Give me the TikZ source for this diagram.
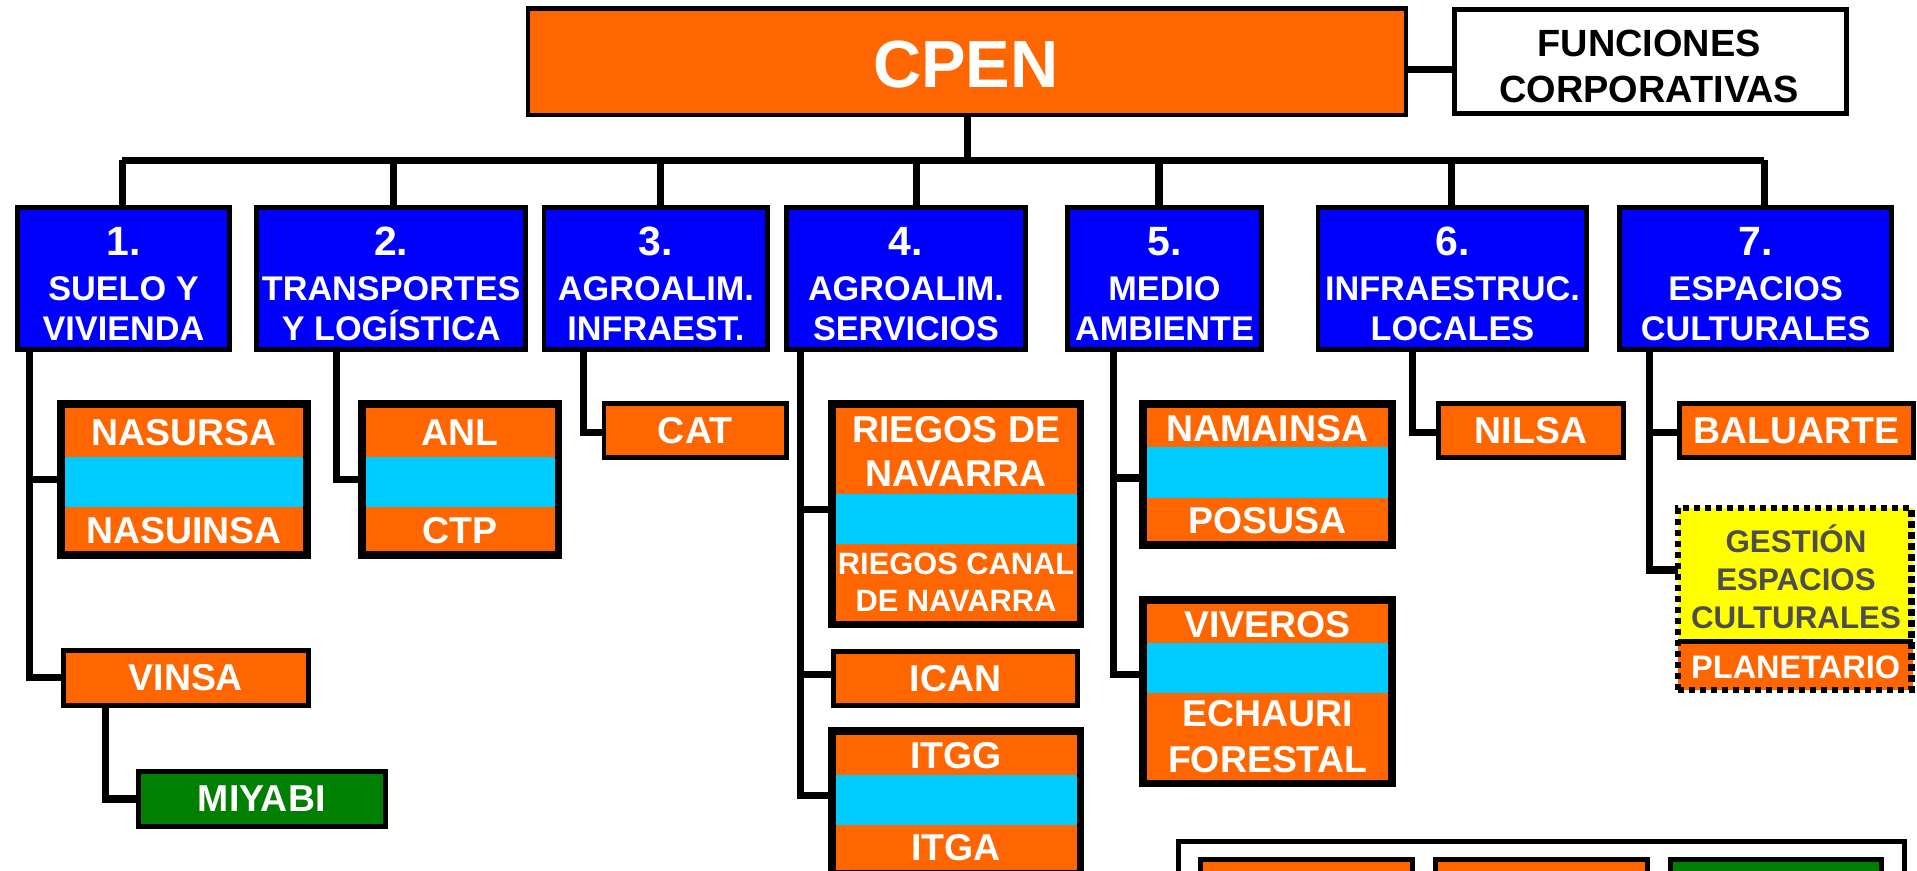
\documentclass[tikz,border=0pt]{standalone}
\usepackage{fontspec}
\setmainfont{Liberation Sans}
\usetikzlibrary{calc}
\definecolor{orangeC}{HTML}{FF6600}
\definecolor{blueC}{HTML}{0000FF}
\definecolor{cyanC}{HTML}{00CCFF}
\definecolor{greenC}{HTML}{008000}
\definecolor{yellowC}{HTML}{FFFF00}
\definecolor{grayT}{HTML}{4D4D4D}
\newcommand{\myfs}[2]{\fontsize{#1}{#2}\selectfont\bfseries}
\newcommand{\mybox}[7]{%
 \pgfmathsetmacro{\myboxcx}{(#3+#5)/2}%
 \pgfmathsetmacro{\myboxcy}{(#4+#6)/2}%
 \pgfmathsetmacro{\myboxw}{(#5-#3)*0.5}%
 \pgfmathsetmacro{\myboxh}{(#6-#4)*0.5}%
 \node[#2, minimum width=\myboxw pt, minimum height=\myboxh pt] (#1) at (\myboxcx,\myboxcy) {#7};}
\newcommand{\bluetxt}[3]{\rule{0pt}{16pt}{\fontsize{16.75}{16.5}\selectfont #1}\\[1.65pt]#2\\#3}
\tikzset{
 boxbase/.style={rectangle, inner sep=0pt, outer sep=0pt, align=center},
 bluebox/.style={boxbase, draw=black, line width=2pt, fill=blueC, text=white, font=\myfs{14}{16.5}},
 obox/.style={boxbase, draw=black, line width=2pt, fill=orangeC, text=white, font=\myfs{15.3}{18}},
 gbox/.style={obox, fill=greenC},
 cframe/.style={boxbase, draw=black, line width=3.2pt},
 orow/.style={boxbase, fill=orangeC, text=white, font=\myfs{15.3}{18}},
 crow/.style={boxbase, fill=cyanC},
 conn/.style={draw=black, line width=2.9pt, line join=miter},
}
\begin{document}
\begin{tikzpicture}[x=0.5pt,y=-0.5pt]
\useasboundingbox (0,0) rectangle (1568,712);
\clip (0,0) rectangle (1568,712);
\fill[white] (0,0) rectangle (1568,712);

% ---------- top
\mybox{cpen}{boxbase, draw=black, line width=1.9pt, fill=orangeC}{432}{7}{1150}{94}{}
\node[text=white, font=\myfs{27.3}{30}] (cpentxt) at (790,53) {CPEN};
\mybox{fun}{boxbase, draw=black, line width=2.1pt, fill=white}{1189.5}{7.5}{1510}{93}{}
\node[align=center, font=\myfs{15.5}{19}] (funtxt) at (1349,54.5) {FUNCIONES\\CORPORATIVAS};

% ---------- blue boxes
\mybox{b1}{bluebox}{14}{170}{188}{286}{\bluetxt{1.}{SUELO Y}{VIVIENDA}}
\mybox{b2}{bluebox}{210}{170}{430}{286}{\bluetxt{2.}{TRANSPORTES}{Y LOGÍSTICA}}
\mybox{b3}{bluebox}{445}{170}{628}{286}{\bluetxt{3.}{AGROALIM.}{INFRAEST.}}
\mybox{b4}{bluebox}{643}{170}{839}{286}{\bluetxt{4.}{AGROALIM.}{SERVICIOS}}
\mybox{b5}{bluebox}{873}{170}{1032}{286}{\bluetxt{5.}{MEDIO}{AMBIENTE}}
\mybox{b6}{bluebox}{1078}{170}{1298}{286}{\bluetxt{6.}{INFRAESTRUC.}{LOCALES}}
\mybox{b7}{bluebox}{1325}{170}{1547}{286}{\bluetxt{7.}{ESPACIOS}{CULTURALES}}

% ---------- column 1
\mybox{nas1}{orow}{50}{333}{251}{375}{NASURSA}
\mybox{nas2}{crow}{50}{373.5}{251}{414.4}{}
\mybox{nas3}{orow}{50}{414.4}{251}{453}{NASUINSA}
\mybox{nas}{cframe}{50.2}{330.2}{250.8}{453.8}{}
\mybox{vinsa}{obox}{52}{532}{252}{577}{VINSA}
\mybox{miy}{gbox}{113}{631}{315}{676}{MIYABI}

% ---------- column 2
\mybox{anl1}{orow}{296}{333}{457}{375}{ANL}
\mybox{anl2}{crow}{296}{373.5}{457}{414.4}{}
\mybox{anl3}{orow}{296}{414.4}{457}{453}{CTP}
\mybox{anl}{cframe}{296.2}{330.2}{456.8}{453.8}{}

% ---------- column 3
\mybox{cat}{obox}{494}{330}{643}{374}{CAT}

% ---------- column 4
\mybox{rie1}{orow}{680}{334}{884}{405}{RIEGOS DE\\NAVARRA}
\mybox{rie2}{crow}{680}{404}{884}{445}{}
\mybox{rie3}{orow, font=\myfs{12.6}{15}}{680}{445}{884}{508}{RIEGOS CANAL\\DE NAVARRA}
\mybox{rie}{cframe}{680.2}{330.2}{883.8}{510.8}{}
\mybox{ican}{obox}{682}{533}{881}{577}{ICAN}
\mybox{itg1}{orow}{680}{601}{884}{635}{ITGG}
\mybox{itg2}{crow}{680}{634}{884}{675}{}
\mybox{itg3}{orow}{680}{675}{884}{712}{ITGA}
\mybox{itg}{cframe}{680.2}{597.7}{883.8}{715.2}{}

% ---------- column 5
\mybox{nam1}{orow}{934.5}{334}{1139}{367}{NAMAINSA}
\mybox{nam2}{crow}{934.5}{366}{1139}{407}{}
\mybox{nam3}{orow}{934.5}{407}{1139}{444}{POSUSA}
\mybox{nam}{cframe}{934.7}{330.2}{1138.8}{445.8}{}
\mybox{viv1}{orow}{934.5}{494}{1139}{527}{VIVEROS}
\mybox{viv2}{crow}{934.5}{526}{1139}{567}{}
\mybox{viv3}{orow}{934.5}{567}{1139}{638}{ECHAURI\\[0.5pt]FORESTAL}
\mybox{viv}{cframe}{934.7}{490.7}{1138.8}{640.8}{}

% ---------- column 6
\mybox{nil}{obox}{1176.5}{330}{1328}{374}{NILSA}

% ---------- column 7
\mybox{bal}{obox}{1374}{330}{1565}{374}{BALUARTE}
\mybox{gesY}{boxbase, fill=yellowC}{1372.5}{415.5}{1565}{523}{}
\node[text=grayT, align=center, font=\myfs{12.8}{15.5}] (gestxt) at (1469,474) {GESTI\smash{Ó}N\\ESPACIOS\\CULTURALES};
\mybox{pla}{orow, font=\myfs{13.3}{15}}{1372.5}{527}{1565}{564.5}{PLANETARIO}
\draw[line width=2pt] ([yshift=-1pt]gesY.south west) -- ([yshift=-1pt]gesY.south east);
\mybox{ges}{boxbase, draw=black, line width=2.7pt, dash pattern=on 2.6pt off 1.9pt}{1372.5}{415.5}{1563.5}{564.5}{}

% ---------- legend (cut off)
\mybox{leg}{boxbase, draw=black, line width=2pt, fill=white}{963.6}{688.5}{1558}{780}{}
\mybox{lega}{obox}{982}{702.7}{1155.6}{780}{}
\mybox{legb}{obox}{1174}{702.7}{1347.6}{780}{}
\mybox{legc}{gbox}{1366}{702.7}{1539}{780}{}

% ---------- connectors
\coordinate (d1) at (100,131);
\coordinate (d2) at (322,131);
\coordinate (d3) at (540,131);
\coordinate (d4) at (750,131);
\coordinate (d5) at (948,131);
\coordinate (d6) at (1187,131);
\coordinate (d7) at (1443,131);
\draw[conn] (cpen.south) -- (cpen.south |- d1);
\draw[conn] (d1) -- (d7);
\foreach \i in {1,...,7} {\draw[conn] (d\i) -- (d\i |- b\i.north);}
\draw[conn] ([yshift=-3.25pt]cpen.east) -- ([yshift=-3.25pt]cpen.east -| fun.west);

\coordinate (v1) at (24,0);
\coordinate (v1b) at (86,0);
\coordinate (v2) at (275,0);
\coordinate (v3) at (477,0);
\coordinate (v4) at (655,0);
\coordinate (v5) at (911,0);
\coordinate (v6) at (1155.4,0);
\coordinate (v7) at (1349,0);
\draw[conn] (b1.south -| v1) |- (nas.west);
\draw[conn] (b1.south -| v1) |- (vinsa.west);
\draw[conn] (vinsa.south -| v1b) |- (miy.west);
\draw[conn] (b2.south -| v2) |- (anl.west);
\draw[conn] (b3.south -| v3) |- ([yshift=-1pt]cat.west);
\draw[conn] (b4.south -| v4) |- ([yshift=1.75pt]rie.west);
\draw[conn] (b4.south -| v4) |- ([yshift=1.5pt]ican.west);
\draw[conn] (b4.south -| v4) |- ([yshift=1.75pt]itg2.west);
\draw[conn] (b5.south -| v5) |- ([yshift=-1.5pt]nam.west);
\draw[conn] (b5.south -| v5) |- ([yshift=-2.75pt]viv2.west);
\draw[conn] (b6.south -| v6) |- ([yshift=-1pt]nil.west);
\draw[conn] (b7.south -| v7) |- ([yshift=-1pt]bal.west);
\draw[conn] (b7.south -| v7) |- ([yshift=1.5pt]gesY.west);
\end{tikzpicture}
\end{document}
